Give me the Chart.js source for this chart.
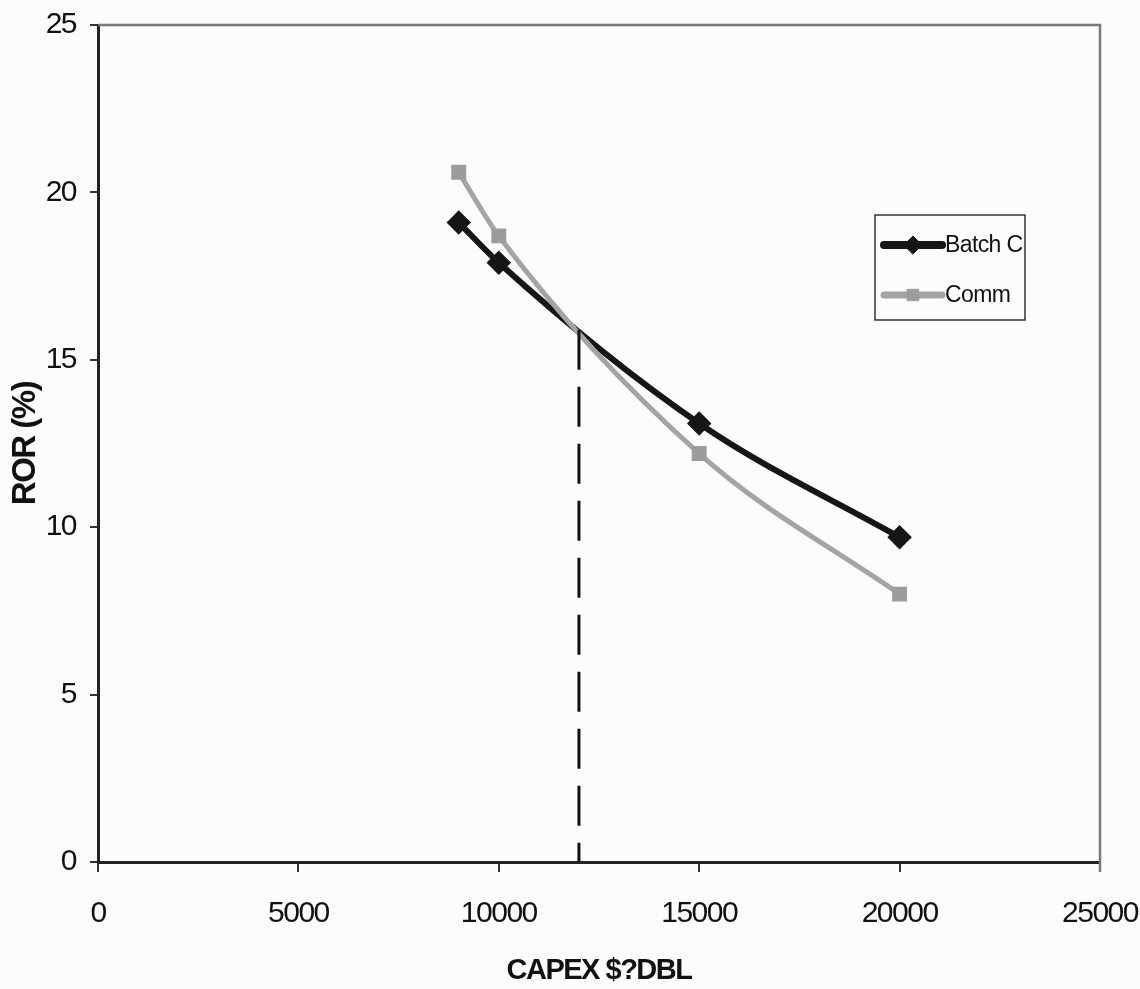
<!DOCTYPE html>
<html>
<head>
<meta charset="utf-8">
<script src="https://cdn.jsdelivr.net/npm/chart.js@4.4.0/dist/chart.umd.min.js"></script>
<style>
  html, body { margin: 0; padding: 0; background: #fcfcfc; }
  canvas { display: block; }
</style>
</head>
<body>
<canvas id="c" width="1140" height="989"></canvas>
<script>
// CAPEX ($/DBL) against rate of return (%)
const capex = [9000, 10000, 15000, 20000];
const batchC = [19.1, 17.9, 13.1, 9.7];
const comm = [20.6, 18.7, 12.2, 8.0];
// break-even marker where the two curves cross
const crossCapex = 12000;
const crossRor = 15.9;
const xTicks = [0, 5000, 10000, 15000, 20000, 25000];
const yTicks = [0, 5, 10, 15, 20, 25];

const FONT = '"Liberation Sans", Arial, sans-serif';
const TIGHT = '-1.5px';

const toPoints = (xs, ys) => xs.map((x, i) => ({ x: x, y: ys[i] }));

// slightly tighter lettering for all chart text
const tightText = {
  id: 'tightText',
  beforeUpdate(chart) { chart.ctx.letterSpacing = TIGHT; },
  beforeDraw(chart) { chart.ctx.letterSpacing = TIGHT; }
};

// frame on the top and right of the plot area
const framePlugin = {
  id: 'frame',
  afterDraw(chart) {
    const { ctx, chartArea: a } = chart;
    ctx.save();
    ctx.strokeStyle = '#7a7a7a';
    ctx.lineWidth = 2.5;
    ctx.beginPath();
    ctx.moveTo(a.left, a.top);
    ctx.lineTo(a.right, a.top);
    ctx.lineTo(a.right, a.bottom + 10);
    ctx.stroke();
    ctx.restore();
  }
};

// boxed legend inside the plot, built from the series datasets
const boxLegend = {
  id: 'boxLegend',
  afterDraw(chart) {
    const { ctx } = chart;
    const items = chart.data.datasets.filter(d => d.inLegend);
    const x0 = 875, y0 = 215, w = 150, h = 105;
    ctx.save();
    ctx.fillStyle = '#fcfcfc';
    ctx.fillRect(x0, y0, w, h);
    ctx.strokeStyle = '#333';
    ctx.lineWidth = 1.5;
    ctx.strokeRect(x0, y0, w, h);
    items.forEach((d, i) => {
      const cy = y0 + 30 + i * 50;
      ctx.strokeStyle = d.borderColor;
      ctx.lineWidth = d.borderWidth + 2;
      ctx.lineCap = 'round';
      ctx.beginPath();
      ctx.moveTo(884, cy);
      ctx.lineTo(942, cy);
      ctx.stroke();
      ctx.fillStyle = d.pointBackgroundColor;
      ctx.strokeStyle = d.pointBorderColor;
      ctx.lineWidth = 1;
      Chart.helpers.drawPoint(ctx, { pointStyle: d.pointStyle, radius: d.pointRadius + 1, borderWidth: 1 }, 913, cy);
      ctx.fillStyle = '#111';
      ctx.font = '23px ' + FONT;
      ctx.letterSpacing = '-0.6px';
      ctx.textBaseline = 'middle';
      ctx.textAlign = 'left';
      ctx.fillText(d.label, 945, cy + 1);
    });
    ctx.restore();
  }
};

new Chart(document.getElementById('c'), {
  type: 'line',
  data: {
    datasets: [
      {
        label: 'Batch C',
        inLegend: true,
        data: toPoints(capex, batchC),
        borderColor: '#161616',
        borderWidth: 6,
        pointStyle: 'rectRot',
        pointRadius: 8,
        pointBackgroundColor: '#161616',
        pointBorderColor: '#161616',
        cubicInterpolationMode: 'monotone',
        order: 2
      },
      {
        label: 'Comm',
        inLegend: true,
        data: toPoints(capex, comm),
        borderColor: '#a4a4a4',
        borderWidth: 5,
        pointStyle: 'rect',
        pointRadius: 7,
        pointBackgroundColor: '#9c9c9c',
        pointBorderColor: '#9c9c9c',
        cubicInterpolationMode: 'monotone',
        order: 1
      },
      {
        label: 'break-even',
        inLegend: false,
        data: [{ x: crossCapex, y: crossRor }, { x: crossCapex, y: 0 }],
        borderColor: '#111',
        borderWidth: 3,
        borderDash: [40, 17],
        pointRadius: 0,
        tension: 0,
        order: 0
      }
    ]
  },
  options: {
    responsive: false,
    animation: false,
    layout: { padding: { top: 25, right: 40, left: 0, bottom: 0 } },
    plugins: {
      legend: { display: false },
      tooltip: { enabled: false }
    },
    scales: {
      x: {
        type: 'linear',
        min: 0,
        max: 25000,
        afterBuildTicks: s => { s.ticks = xTicks.map(v => ({ value: v })); },
        afterFit: s => { s.height = 127; s.paddingLeft = 0; s.paddingRight = 0; },
        ticks: {
          color: '#111',
          font: { family: FONT, size: 30 },
          padding: 24,
          maxRotation: 0,
          callback: v => String(v)
        },
        grid: { drawOnChartArea: false, drawTicks: true, tickLength: 10, color: '#333', lineWidth: 2 },
        border: { display: true, color: '#222', width: 3 },
        title: {
          display: true,
          text: 'CAPEX $?DBL',
          color: '#111',
          font: { family: FONT, size: 29, weight: 'bold' },
          padding: { top: 0, bottom: 1 }
        }
      },
      y: {
        type: 'linear',
        min: 0,
        max: 25,
        afterBuildTicks: s => { s.ticks = yTicks.map(v => ({ value: v })); },
        afterFit: s => { s.width = 98; s.paddingTop = 0; s.paddingBottom = 0; },
        ticks: {
          color: '#111',
          font: { family: FONT, size: 30 },
          padding: 14
        },
        grid: { drawOnChartArea: false, drawTicks: true, tickLength: 8, color: '#333', lineWidth: 2 },
        border: { display: true, color: '#222', width: 3 },
        title: {
          display: true,
          text: 'ROR (%)',
          color: '#111',
          font: { family: FONT, size: 33, weight: 'bold' },
          padding: { top: 6, bottom: 0 }
        }
      }
    }
  },
  plugins: [tightText, framePlugin, boxLegend]
});
</script>
</body>
</html>
